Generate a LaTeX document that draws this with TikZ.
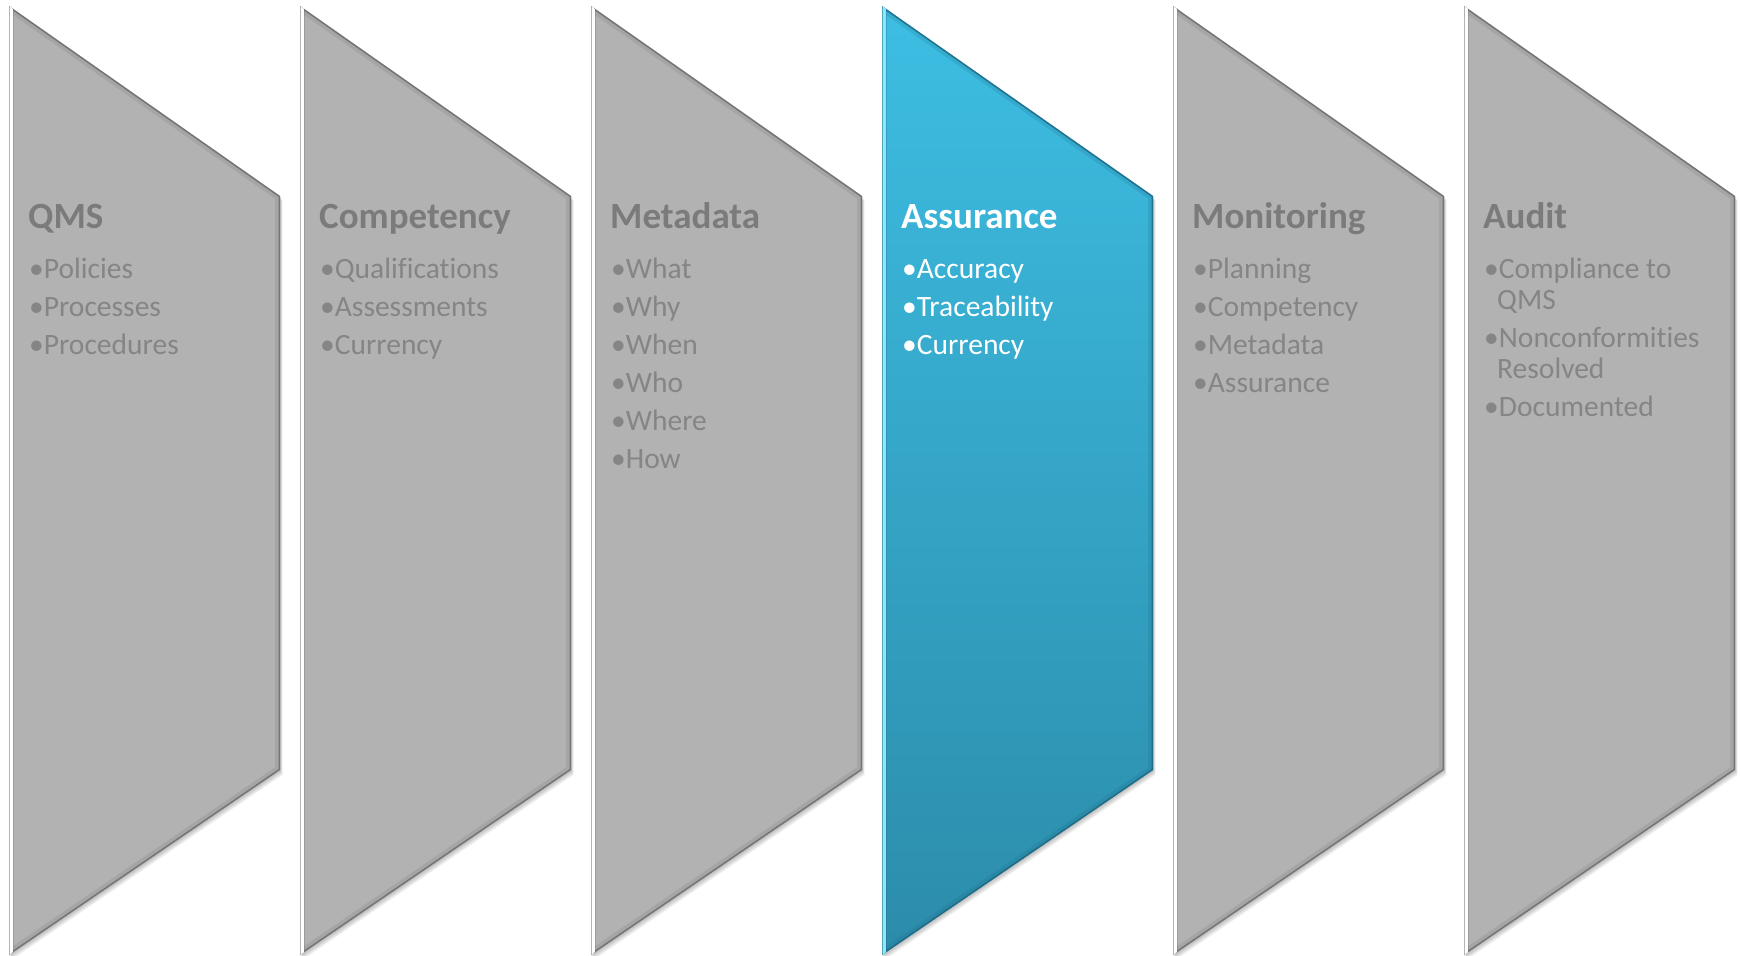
\documentclass[tikz,border=0pt]{standalone}
\usepackage{fontspec}
\setmainfont{Carlito}[RawFeature={-liga,-clig,-calt,-dlig}]
\definecolor{pgray}{HTML}{B2B2B2}
\definecolor{rimgray}{HTML}{6A6A6A}
\definecolor{ttlgray}{HTML}{7B7B7B}
\definecolor{itmgray}{HTML}{858585}
\definecolor{bluetop}{HTML}{3DBEE3}
\definecolor{bluebot}{HTML}{2C8CAA}
\definecolor{rimblue}{HTML}{1C6680}
\definecolor{hiblue}{HTML}{8CE8FF}
\tikzset{
  grayfill/.style={fill=pgray},
  bluefill/.style={top color=bluetop, bottom color=bluebot},
  ttl/.style={anchor=base west, inner sep=0pt, font=\fontsize{37}{44}\selectfont\bfseries, text=#1},
  itm/.style={anchor=base west, inner sep=0pt, font=\fontsize{29.5}{34}\selectfont, text=#1},
}
\newcommand\mypanel[5]{%
  \foreach \d in {1,...,5}{\fill[black,opacity=0.05] (#1+\d*0.5,6+\d) -- (#1+271+\d*0.5,196+\d) -- (#1+271+\d*0.5,770+\d) -- (#1+\d*0.5,955+\d) -- cycle;}
  \path[#2] (#1,6) coordinate (#5-tl) -- (#1+271,196) coordinate (#5-tr) -- (#1+271,770) coordinate (#5-br) -- (#1,955) coordinate (#5-bl) -- cycle;
  \begin{scope}
    \clip (#1,6) -- (#1+271,196) -- (#1+271,770) -- (#1,955) -- cycle;
    \draw[#3, line width=10pt, opacity=0.18] (#1,6) -- (#1+271,196) -- (#1+271,770) -- (#1,955);
    \draw[#3, line width=3pt, opacity=0.8] (#1,6) -- (#1+271,196) -- (#1+271,770) -- (#1,955);
    \draw[#4, line width=7pt] (#1,0) -- (#1,961);
    \draw[#3, line width=1.5pt, opacity=0.3] (#1+4.5,0) -- (#1+4.5,961);
  \end{scope}
  \draw[#3, line width=0.6pt, opacity=0.5] (#1,6) -- (#1,955);
}
\begin{document}
\begin{tikzpicture}[x=1pt,y=-1pt]
\useasboundingbox (0,0) rectangle (1741,956);
\fill[white] (0,0) rectangle (1741,956);
\mypanel{9}{grayfill}{rimgray}{white}{p1}
\mypanel{300}{grayfill}{rimgray}{white}{p2}
\mypanel{591}{grayfill}{rimgray}{white}{p3}
\mypanel{882}{bluefill}{rimblue}{hiblue}{p4}
\mypanel{1173}{grayfill}{rimgray}{white}{p5}
\mypanel{1464}{grayfill}{rimgray}{white}{p6}
% QMS
\node[ttl=ttlgray] (t1) at (28,228) {QMS};
\node[itm=itmgray] (a1) at (29,278) {•Policies};
\node[itm=itmgray] (a2) at (29,316) {•Processes};
\node[itm=itmgray] (a3) at (29,354) {•Procedures};
% Competency
\node[ttl=ttlgray] (t2) at (319,228) {Competency};
\node[itm=itmgray] (b1) at (320,278) {•Qualifications};
\node[itm=itmgray] (b2) at (320,316) {•Assessments};
\node[itm=itmgray] (b3) at (320,354) {•Currency};
% Metadata
\node[ttl=ttlgray] (t3) at (610,228) {Metadata};
\node[itm=itmgray] (c1) at (611,278) {•What};
\node[itm=itmgray] (c2) at (611,316) {•Why};
\node[itm=itmgray] (c3) at (611,354) {•When};
\node[itm=itmgray] (c4) at (611,392) {•Who};
\node[itm=itmgray] (c5) at (611,430) {•Where};
\node[itm=itmgray] (c6) at (611,468) {•How};
% Assurance
\node[ttl=white] (t4) at (901,228) {Assurance};
\node[itm=white] (d1) at (902,278) {•Accuracy};
\node[itm=white] (d2) at (902,316) {•Traceability};
\node[itm=white] (d3) at (902,354) {•Currency};
% Monitoring
\node[ttl=ttlgray] (t5) at (1192,228) {Monitoring};
\node[itm=itmgray] (e1) at (1193,278) {•Planning};
\node[itm=itmgray] (e2) at (1193,316) {•Competency};
\node[itm=itmgray] (e3) at (1193,354) {•Metadata};
\node[itm=itmgray] (e4) at (1193,392) {•Assurance};
% Audit
\node[ttl=ttlgray] (t6) at (1483,228) {Audit};
\node[itm=itmgray] (f1) at (1484,278) {•Compliance to};
\node[itm=itmgray] (f1b) at (1497,309.5) {QMS};
\node[itm=itmgray] (f2) at (1484,347) {•Nonconformities};
\node[itm=itmgray] (f2b) at (1497,378.5) {Resolved};
\node[itm=itmgray] (f3) at (1484,416) {•Documented};
\end{tikzpicture}
\end{document}
